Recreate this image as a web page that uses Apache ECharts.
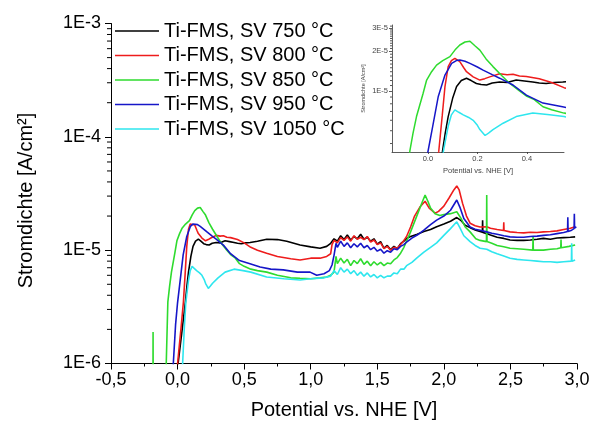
<!DOCTYPE html>
<html><head><meta charset="utf-8">
<script src="https://cdn.jsdelivr.net/npm/echarts@6/dist/echarts.min.js"></script>
<style>html,body{margin:0;padding:0;background:#fff}#c{width:599px;height:427px}</style>
</head><body><div id="c"></div>
<script>
// Series names and colours
const seriesNames = ['Ti-FMS, SV 750 °C','Ti-FMS, SV 800 °C','Ti-FMS, SV 850 °C','Ti-FMS, SV 950 °C','Ti-FMS, SV 1050 °C'];
const seriesColors = ['#000000','#ee1c1c','#2edb2e','#1616c8','#2ee6ee'];

// Current density in µA/cm² (×1e-6 A/cm²) vs. potential [V]
const sv750 = [[-0.01,0.5],[0.004,1.0],[0.03,1.8],[0.059,3.5],[0.07,4.8],[0.082,6.4],[0.1,8.8],[0.116,10.8],[0.135,12.0],[0.156,12.5],[0.175,12.0],[0.196,11.4],[0.215,11.2],[0.237,11.1],[0.26,11.5],[0.29,11.7],[0.32,11.6],[0.357,12.1],[0.39,11.9],[0.424,11.7],[0.45,11.5],[0.478,11.4],[0.51,11.6],[0.545,11.7],[0.6,12.0],[0.67,12.5],[0.75,12.4],[0.82,12.0],[0.92,11.1],[1.0,10.7],[1.07,10.4],[1.12,10.8],[1.15,11.5],[1.175,12.6],[1.2,12.0],[1.225,13.4],[1.25,12.4],[1.275,13.6],[1.3,12.3],[1.325,13.2],[1.35,12.6],[1.375,13.8],[1.4,12.5],[1.425,13.0],[1.45,12.0],[1.475,12.6],[1.5,11.3],[1.525,11.9],[1.55,10.4],[1.575,11.0],[1.6,10.1],[1.625,10.8],[1.65,10.3],[1.675,11.4],[1.7,12.0],[1.725,12.8],[1.75,13.2],[1.8,13.8],[1.85,14.6],[1.9,15.2],[1.946,16.1],[2.0,17.0],[2.05,18.0],[2.097,19.4],[2.13,18.2],[2.16,16.6],[2.197,15.8],[2.24,15.0],[2.272,14.6],[2.289,14.4],[2.291,18.4],[2.293,14.3],[2.322,14.0],[2.35,13.6],[2.4,13.0],[2.45,12.7],[2.497,12.3],[2.55,12.2],[2.6,12.2],[2.65,12.3],[2.7,12.5],[2.748,12.7],[2.8,12.5],[2.85,12.8],[2.9,12.9],[2.95,13.0],[2.986,13.1]];
const sv800 = [[-0.01,0.5],[0.0,1.0],[0.025,2.0],[0.044,3.5],[0.058,6.5],[0.069,10.8],[0.082,15.3],[0.095,17.0],[0.109,17.7],[0.129,16.7],[0.145,15.0],[0.156,14.0],[0.183,12.8],[0.21,12.1],[0.23,12.4],[0.25,12.8],[0.29,13.5],[0.32,13.3],[0.344,13.4],[0.37,13.0],[0.398,12.9],[0.45,12.4],[0.5,11.6],[0.55,10.6],[0.6,10.0],[0.669,9.4],[0.75,8.8],[0.85,8.4],[0.92,8.2],[1.0,8.5],[1.07,8.5],[1.12,8.8],[1.15,9.3],[1.16,11.2],[1.175,12.2],[1.2,11.6],[1.225,12.9],[1.25,12.2],[1.275,13.1],[1.3,12.0],[1.325,13.4],[1.35,12.5],[1.375,13.0],[1.4,12.4],[1.425,13.2],[1.45,11.8],[1.475,12.3],[1.5,11.2],[1.525,11.6],[1.55,10.3],[1.575,10.8],[1.6,10.0],[1.625,10.6],[1.65,10.4],[1.675,11.2],[1.7,12.2],[1.72,13.2],[1.75,16.0],[1.78,20.0],[1.82,24.0],[1.859,27.0],[1.89,23.5],[1.934,21.2],[1.96,22.0],[2.0,24.5],[2.04,29.0],[2.075,34.0],[2.097,36.8],[2.115,34.0],[2.14,26.0],[2.17,20.0],[2.197,17.3],[2.235,16.4],[2.272,16.0],[2.322,16.1],[2.35,15.6],[2.4,15.2],[2.448,14.9],[2.45,17.6],[2.452,14.9],[2.497,14.5],[2.55,14.3],[2.6,14.2],[2.65,14.4],[2.7,14.3],[2.748,14.5],[2.8,14.6],[2.85,14.8],[2.9,15.2],[2.95,15.6],[2.986,16.1]];
const sv850 = [[-0.186,0.1],[-0.184,1.9],[-0.182,0.1],[-0.09,0.1],[-0.085,1.0],[-0.073,3.5],[-0.06,4.8],[-0.046,6.4],[-0.02,9.5],[-0.005,12.1],[0.015,14.0],[0.035,15.7],[0.06,17.0],[0.089,18.2],[0.11,20.5],[0.129,22.3],[0.15,23.5],[0.17,23.8],[0.19,22.0],[0.21,20.4],[0.235,17.5],[0.263,15.3],[0.3,13.0],[0.331,11.4],[0.37,10.0],[0.4,9.1],[0.43,8.6],[0.465,7.6],[0.5,7.2],[0.55,6.8],[0.6,6.6],[0.67,6.4],[0.75,6.0],[0.85,5.7],[0.92,5.65],[1.0,5.6],[1.07,5.7],[1.12,5.8],[1.15,6.0],[1.175,6.4],[1.19,8.8],[1.2,7.6],[1.225,8.5],[1.25,7.7],[1.275,8.3],[1.3,7.3],[1.325,8.1],[1.35,7.6],[1.375,8.4],[1.4,7.5],[1.425,8.0],[1.45,7.3],[1.475,7.9],[1.5,7.4],[1.525,7.8],[1.55,7.3],[1.575,7.7],[1.6,7.6],[1.625,8.2],[1.65,8.6],[1.675,9.4],[1.7,10.6],[1.72,12.0],[1.75,14.5],[1.8,20.5],[1.84,27.0],[1.859,30.6],[1.88,27.0],[1.9,23.5],[1.934,21.0],[1.97,20.2],[2.0,20.6],[2.05,21.0],[2.097,21.8],[2.13,19.0],[2.16,16.0],[2.197,14.5],[2.24,12.6],[2.272,12.2],[2.32,11.9],[2.322,30.6],[2.324,11.9],[2.36,11.5],[2.4,11.0],[2.45,10.7],[2.497,10.4],[2.55,10.3],[2.6,10.2],[2.668,10.0],[2.67,13.3],[2.672,10.0],[2.748,10.0],[2.8,10.2],[2.85,10.3],[2.878,10.5],[2.88,12.4],[2.882,10.5],[2.94,10.8],[2.986,11.1]];
const sv950 = [[-0.04,0.5],[-0.032,1.0],[-0.015,2.2],[0.0,3.45],[0.017,5.1],[0.042,9.1],[0.069,13.2],[0.096,16.2],[0.115,17.0],[0.129,17.2],[0.15,16.8],[0.17,16.2],[0.2,15.2],[0.223,14.4],[0.26,13.3],[0.29,12.5],[0.344,11.1],[0.398,9.3],[0.465,8.1],[0.544,7.6],[0.62,7.1],[0.7,6.8],[0.794,6.7],[0.9,6.4],[0.995,6.4],[1.045,6.0],[1.1,6.2],[1.14,6.6],[1.16,7.4],[1.175,9.0],[1.19,11.5],[1.2,10.6],[1.225,12.0],[1.25,10.8],[1.275,11.6],[1.3,10.5],[1.325,11.4],[1.35,10.7],[1.375,11.5],[1.4,10.5],[1.425,11.0],[1.45,10.1],[1.475,10.6],[1.5,9.8],[1.525,10.2],[1.55,9.4],[1.575,9.9],[1.6,9.6],[1.625,10.3],[1.65,10.1],[1.675,10.8],[1.7,11.2],[1.72,11.8],[1.76,12.8],[1.8,13.6],[1.85,15.0],[1.9,16.8],[1.946,18.4],[2.0,20.0],[2.05,22.5],[2.097,27.7],[2.12,24.0],[2.15,19.0],[2.197,16.0],[2.235,15.3],[2.272,15.0],[2.322,14.5],[2.36,14.1],[2.4,13.8],[2.45,13.4],[2.497,13.1],[2.55,13.0],[2.6,13.0],[2.65,13.2],[2.7,13.3],[2.748,13.5],[2.8,13.7],[2.85,14.0],[2.9,14.3],[2.929,14.6],[2.931,19.5],[2.933,14.6],[2.96,15.0],[2.978,15.5],[2.98,21.0],[2.982,15.6],[2.995,16.1]];
const sv1050 = [[0.03,0.5],[0.038,1.0],[0.05,2.0],[0.062,3.45],[0.082,5.4],[0.095,6.6],[0.109,7.2],[0.125,6.9],[0.143,6.6],[0.165,6.3],[0.183,6.0],[0.2,5.5],[0.21,5.1],[0.231,4.6],[0.245,4.8],[0.263,5.1],[0.304,5.7],[0.357,6.4],[0.424,6.8],[0.492,6.6],[0.55,6.4],[0.669,5.8],[0.8,5.6],[0.92,5.45],[1.0,5.6],[1.1,5.7],[1.15,5.9],[1.175,6.6],[1.2,6.1],[1.225,7.0],[1.25,6.4],[1.275,6.8],[1.3,6.2],[1.325,6.6],[1.35,6.0],[1.375,6.4],[1.4,5.9],[1.425,6.3],[1.45,5.8],[1.475,6.1],[1.5,5.7],[1.525,6.0],[1.55,5.7],[1.575,5.9],[1.6,5.9],[1.625,6.3],[1.65,6.2],[1.675,6.8],[1.7,6.8],[1.72,7.3],[1.76,7.8],[1.8,8.6],[1.85,9.6],[1.9,10.6],[1.946,11.6],[2.0,13.5],[2.05,15.5],[2.097,17.8],[2.12,15.8],[2.15,13.4],[2.197,11.9],[2.235,11.0],[2.272,10.4],[2.322,10.2],[2.36,9.7],[2.4,9.3],[2.45,8.9],[2.497,8.5],[2.55,8.3],[2.6,8.2],[2.65,8.1],[2.7,8.0],[2.748,7.9],[2.8,7.9],[2.85,7.8],[2.9,7.9],[2.958,8.0],[2.96,11.5],[2.962,8.0],[2.986,8.2]];
const UNIT = 1e-6;

// Axis ticks
const yDecades = [1e-6, 1e-5, 1e-4, 1e-3];
const yMinorMultipliers = [2,3,4,5,6,7,8,9];
const insetYLabels = [1e-5, 2e-5, 3e-5];
const insetXLabels = [0.0, 0.2, 0.4];

const FONT = 'Liberation Sans, Arial, sans-serif';
const lg = v => Math.log10(v);
const toLog = arr => arr.map(p => [p[0], lg(p[1] * UNIT)]);
const allSeries = [sv750, sv800, sv850, sv950, sv1050];

const majorY = yDecades.map(lg);
const minorY = [];
for (let n = -6; n < -3; n++) yMinorMultipliers.forEach(k => minorY.push(lg(k * Math.pow(10, n))));
const insetYTicks = [];
for (let k = 4; k <= 9; k++) insetYTicks.push(lg(k * 1e-6));
for (let k = 11; k <= 31; k++) if (k % 10 !== 0) insetYTicks.push(lg(k * 1e-6));

const X_MIN = -0.5, INSET_X_MIN = -0.145;

// Log-axis minor ticks, placed through the axis scale at the left edge of each grid
function tickSeries(xIdx, yIdx, xEdge, values, len, color) {
  return {
    type: 'custom', xAxisIndex: xIdx, yAxisIndex: yIdx, silent: true, clip: false, z: 3,
    data: values.map(v => [xEdge, v]),
    renderItem: (params, api) => {
      const p = api.coord([api.value(0), api.value(1)]);
      return {type: 'line', shape: {x1: p[0] - len, y1: p[1], x2: p[0], y2: p[1]},
        style: {stroke: color, lineWidth: 1}};
    }
  };
}

const series = [];
allSeries.forEach((d, i) => {
  const data = toLog(d);
  series.push({name: seriesNames[i], type: 'line', xAxisIndex: 0, yAxisIndex: 0, data, symbol: 'none',
    lineStyle: {color: seriesColors[i], width: 1.6}, itemStyle: {color: seriesColors[i]}, clip: true, silent: true});
  series.push({name: seriesNames[i], type: 'line', xAxisIndex: 1, yAxisIndex: 1, data, symbol: 'none',
    lineStyle: {color: seriesColors[i], width: 1.5}, itemStyle: {color: seriesColors[i]}, clip: true, silent: true});
});
series.push(tickSeries(0, 0, X_MIN, minorY, 4, '#000'));
series.push(tickSeries(1, 1, INSET_X_MIN, insetYTicks, 2, '#555'));

const chart = echarts.init(document.getElementById('c'), null, {renderer: 'canvas'});
chart.setOption({
  animation: false,
  backgroundColor: '#ffffff',
  textStyle: {fontFamily: FONT},
  grid: [
    {left: 111, right: 22, top: 23.5, bottom: 63.5, containLabel: false, outerBoundsMode: 'none'},
    {left: 392, top: 25, width: 172, height: 127, containLabel: false, outerBoundsMode: 'none'}
  ],
  legend: {
    data: seriesNames, orient: 'vertical', left: 115, top: 21, padding: 0,
    icon: 'rect', itemWidth: 44, itemHeight: 1.5, itemGap: 4.5,
    itemStyle: {borderWidth: 0},
    textStyle: {fontSize: 20, fontFamily: FONT, color: '#000', lineHeight: 20}
  },
  xAxis: [
    {type: 'value', gridIndex: 0, min: X_MIN, max: 3.0, interval: 0.5,
     axisLine: {onZero: false, lineStyle: {color: '#000', width: 1}},
     axisTick: {show: true, length: 6, lineStyle: {color: '#000'}},
     minorTick: {show: true, splitNumber: 2, length: 3, lineStyle: {color: '#000'}},
     splitLine: {show: false}, minorSplitLine: {show: false},
     axisLabel: {color: '#000', fontSize: 18, fontFamily: FONT, margin: 8,
       formatter: v => v.toFixed(1).replace('.', ',')},
     name: 'Potential vs. NHE [V]', nameLocation: 'middle', nameGap: 37,
     nameTextStyle: {fontSize: 20, fontFamily: FONT, color: '#000'}},
    {type: 'value', gridIndex: 1, min: INSET_X_MIN, max: 0.55,
     axisLine: {onZero: false, lineStyle: {color: '#333', width: 0.8}},
     axisTick: {show: true, length: 2, customValues: insetXLabels, lineStyle: {color: '#333', width: 0.8}},
     splitLine: {show: false},
     axisLabel: {color: '#444', fontSize: 7.5, fontFamily: FONT, margin: 3, customValues: insetXLabels,
       formatter: v => v.toFixed(1)},
     name: 'Potential vs. NHE [V]', nameLocation: 'middle', nameGap: 15,
     nameTextStyle: {fontSize: 7.5, fontFamily: FONT, color: '#444'}}
  ],
  yAxis: [
    {type: 'value', gridIndex: 0, min: -6, max: -3, position: 'left',
     axisLine: {show: true, onZero: false, lineStyle: {color: '#000', width: 1}},
     axisTick: {show: true, length: 6, customValues: majorY, lineStyle: {color: '#000', width: 1}},
     axisLabel: {color: '#000', fontSize: 18, fontFamily: FONT, margin: 10, customValues: majorY,
       formatter: v => '1E' + Math.round(v)},
     splitLine: {show: false},
     name: 'Stromdichte [A/cm²]', nameLocation: 'middle', nameGap: 75, nameRotate: 90,
     nameTextStyle: {fontSize: 20, fontFamily: FONT, color: '#000', padding: [0, 14, 0, 0]}},
    {type: 'value', gridIndex: 1, min: lg(3.45e-6), max: -4.5, position: 'left',
     axisLine: {show: true, onZero: false, lineStyle: {color: '#333', width: 0.8}},
     axisTick: {show: true, length: 3, customValues: insetYLabels.map(lg), lineStyle: {color: '#333', width: 0.8}},
     axisLabel: {color: '#444', fontSize: 7.5, fontFamily: FONT, margin: 4, customValues: insetYLabels.map(lg),
       formatter: v => Math.round(Math.pow(10, v + 5)) + 'E-5'},
     splitLine: {show: false},
     name: 'Stromdichte [A/cm²]', nameLocation: 'middle', nameGap: 26, nameRotate: 90,
     nameTextStyle: {fontSize: 5.5, fontFamily: FONT, color: '#444'}}
  ],
  series
});
</script>
</body></html>
